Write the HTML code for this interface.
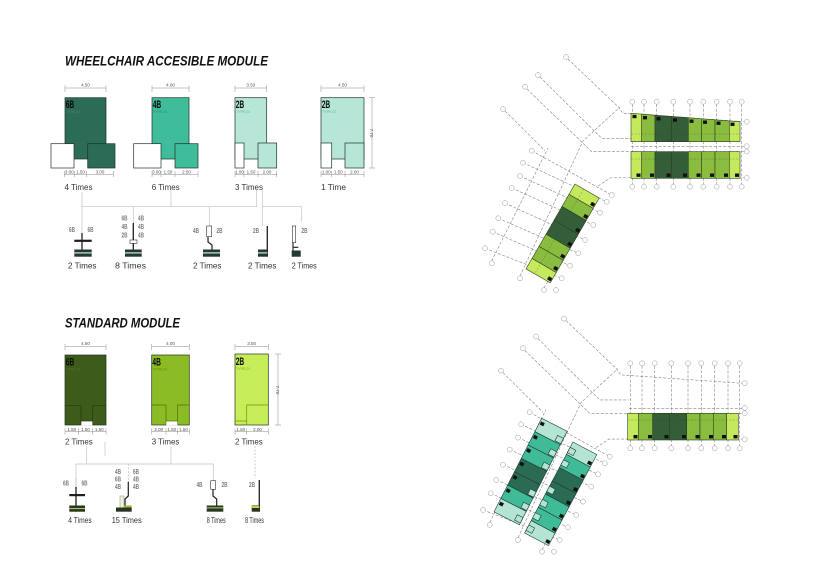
<!DOCTYPE html>
<html><head><meta charset="utf-8"><style>
html,body{margin:0;padding:0;background:#fff;}
svg{display:block}
text{font-family:"Liberation Sans",sans-serif}
.t{font-weight:bold;font-style:italic;font-size:13.5px;fill:#111}
.big{font-weight:bold;font-size:11px;fill:#0b0b0b}
.ty{font-size:3.6px}
.dm{font-size:4.5px;fill:#555}
.tm{font-size:8px;fill:#333}
.lb{font-weight:bold;font-size:7.5px;fill:#7c7c7c}
.dl{stroke:#8a8a8a;stroke-width:.5;fill:none}
.ol{stroke:#1f3328;stroke-width:.7}
</style></head><body>
<svg width="818" height="579" viewBox="0 0 818 579" xmlns="http://www.w3.org/2000/svg">
<rect width="818" height="579" fill="#fff"/>

<text class="t" x="65" y="65.5" textLength="203" lengthAdjust="spacingAndGlyphs">WHEELCHAIR ACCESIBLE MODULE</text>
<text class="t" x="65" y="327.7" textLength="115" lengthAdjust="spacingAndGlyphs">STANDARD MODULE</text>

<!-- 6B -->
<rect x="65" y="97.7" width="41" height="61.3" fill="#2c6b55" class="ol"/>
<rect x="87.7" y="143.7" width="27.3" height="24.3" fill="#2c6b55" class="ol"/>
<rect x="51" y="143.7" width="23" height="24.3" fill="#fff" class="ol"/>
<text class="big" x="65.7" y="108" textLength="8.5" lengthAdjust="spacingAndGlyphs">6B</text>
<text class="ty" x="66" y="113" fill="#4f8a74">TYPE.01</text>
<path class="dl" d="M65 88H106M65 85.5V92M106 85.5V92M64.3 174.5H113.3M64.3 171V177M74.3 171V177M86.7 171V177M113.3 171V177"/>
<text class="dm" x="85.5" y="86.3" text-anchor="middle">4.50</text>
<text class="dm" x="69.3" y="173.5" text-anchor="middle">3.00</text>
<text class="dm" x="80.5" y="173.5" text-anchor="middle">1.50</text>
<text class="dm" x="100" y="173.5" text-anchor="middle">3.00</text>
<text class="tm" x="64.5" y="190" textLength="28" lengthAdjust="spacingAndGlyphs">4 Times</text>

<!-- 4B -->
<rect x="152" y="97.7" width="37" height="61.3" fill="#3fbc99" class="ol"/>
<rect x="175" y="143.7" width="23" height="24.3" fill="#3fbc99" class="ol"/>
<rect x="133.7" y="143.7" width="27.3" height="24.3" fill="#fff" class="ol"/>
<text class="big" x="152.7" y="108" textLength="8.5" lengthAdjust="spacingAndGlyphs">4B</text>
<text class="ty" x="153" y="113" fill="#2a8d70">TYPE.01</text>
<path class="dl" d="M152 88H189M152 85.5V92M189 85.5V92M152 174.5H198M152 171V177M161 171V177M175 171V177M198 171V177"/>
<text class="dm" x="170.5" y="86.3" text-anchor="middle">4.00</text>
<text class="dm" x="156.5" y="173.5" text-anchor="middle">3.00</text>
<text class="dm" x="168" y="173.5" text-anchor="middle">1.50</text>
<text class="dm" x="186.5" y="173.5" text-anchor="middle">2.50</text>
<text class="tm" x="151.7" y="190" textLength="28" lengthAdjust="spacingAndGlyphs">6 Times</text>

<!-- 2B type01 -->
<rect x="235" y="97.7" width="31.7" height="61.3" fill="#b5e6d7" class="ol"/>
<rect x="258" y="143" width="18.7" height="25" fill="#b5e6d7" class="ol"/>
<rect x="235" y="143" width="9" height="25" fill="#fff" class="ol"/>
<text class="big" x="235.7" y="108" textLength="8.5" lengthAdjust="spacingAndGlyphs">2B</text>
<text class="ty" x="236" y="113" fill="#6fb5a0">TYPE.01</text>
<path class="dl" d="M235 88H266.7M235 85.5V92M266.7 85.5V92M235 174.5H276.7M235 171V177M244 171V177M258 171V177M276.7 171V177"/>
<text class="dm" x="250.8" y="86.3" text-anchor="middle">3.50</text>
<text class="dm" x="239.5" y="173.5" text-anchor="middle">1.00</text>
<text class="dm" x="251" y="173.5" text-anchor="middle">1.50</text>
<text class="dm" x="267" y="173.5" text-anchor="middle">2.00</text>
<text class="tm" x="235" y="190" textLength="28" lengthAdjust="spacingAndGlyphs">3 Times</text>

<!-- 2B type02 -->
<rect x="321" y="97.7" width="43" height="61.3" fill="#b5e6d7" class="ol"/>
<rect x="345" y="143" width="19" height="25" fill="#b5e6d7" class="ol"/>
<rect x="321" y="143" width="10.7" height="25" fill="#fff" class="ol"/>
<text class="big" x="321.7" y="108" textLength="8.5" lengthAdjust="spacingAndGlyphs">2B</text>
<text class="ty" x="322" y="113" fill="#6fb5a0">TYPE.02</text>
<path class="dl" d="M321 88H364M321 85.5V92M364 85.5V92M321 174.5H364M321 171V177M331.7 171V177M345 171V177M364 171V177M372 97.7V168M369 97.7H375M369 168H375"/>
<text class="dm" x="342.5" y="86.3" text-anchor="middle">4.50</text>
<text class="dm" x="326.3" y="173.5" text-anchor="middle">1.00</text>
<text class="dm" x="338.3" y="173.5" text-anchor="middle">1.50</text>
<text class="dm" x="354.5" y="173.5" text-anchor="middle">2.00</text>
<text class="dm" transform="translate(369.8,133) rotate(90)" text-anchor="middle">7.70</text>
<text class="tm" x="321" y="190" textLength="25" lengthAdjust="spacingAndGlyphs">1 Time</text>

<!-- WA TREE -->
<path stroke="#c4c4c4" stroke-width=".7" fill="none" d="M82 192V233M82 206.7H256.7M171 190V206.7M256.7 190V206.7M262.3 190V226M262.3 206.7H301.7M301.7 206.7V222M133.3 206.7V223M209.3 206.7V226"/>
<text class="lb" x="69" y="232" textLength="6" lengthAdjust="spacingAndGlyphs">6B</text>
<text class="lb" x="87.5" y="232" textLength="6" lengthAdjust="spacingAndGlyphs">6B</text>
<path d="M82 233V251" stroke="#1e1e1e" stroke-width="1.3"/>
<rect x="74.3" y="239.7" width="17.4" height="2.2" fill="#1e1e1e"/>
<rect x="74.3" y="249.5" width="17.4" height="7.2" fill="#223a2f"/><rect x="74.3" y="252.3" width="17.4" height="1.2" fill="#cde8dc"/>
<text class="tm" x="68" y="268.5" textLength="28.5" lengthAdjust="spacingAndGlyphs">2 Times</text>
<text class="lb" x="121.5" y="220.5" textLength="6" lengthAdjust="spacingAndGlyphs">6B</text>
<text class="lb" x="121.5" y="229" textLength="6" lengthAdjust="spacingAndGlyphs">4B</text>
<text class="lb" x="121.5" y="237.5" textLength="6" lengthAdjust="spacingAndGlyphs">2B</text>
<text class="lb" x="138" y="220.5" textLength="6" lengthAdjust="spacingAndGlyphs">4B</text>
<text class="lb" x="138" y="229" textLength="6" lengthAdjust="spacingAndGlyphs">4B</text>
<text class="lb" x="138" y="237.5" textLength="6" lengthAdjust="spacingAndGlyphs">4B</text>
<path d="M133.3 223V240M133.3 243.3V250" stroke="#1e1e1e" stroke-width="1.3"/>
<rect x="130" y="240" width="7" height="3.3" fill="#fff" stroke="#333" stroke-width=".6"/>
<rect x="125" y="249.5" width="16.7" height="7.2" fill="#223a2f"/><rect x="125" y="252.3" width="16.7" height="1.2" fill="#cde8dc"/>
<text class="tm" x="115" y="268.5" textLength="31" lengthAdjust="spacingAndGlyphs">8 Times</text>
<rect x="206.7" y="226" width="5" height="10.7" fill="#fff" stroke="#333" stroke-width=".6"/>
<text class="lb" x="193" y="233" textLength="6" lengthAdjust="spacingAndGlyphs">4B</text>
<text class="lb" x="216.5" y="233" textLength="6" lengthAdjust="spacingAndGlyphs">2B</text>
<path d="M208 236.7V242L212 245V250" stroke="#1e1e1e" stroke-width="1.2" fill="none"/>
<rect x="203" y="249.5" width="17" height="7.2" fill="#223a2f"/><rect x="203" y="252.3" width="17" height="1.2" fill="#cde8dc"/>
<text class="tm" x="193" y="268.5" textLength="28.5" lengthAdjust="spacingAndGlyphs">2 Times</text>
<text class="lb" x="253" y="233" textLength="6" lengthAdjust="spacingAndGlyphs">2B</text>
<path d="M267.3 226V256.7" stroke="#1e1e1e" stroke-width="1.3"/>
<rect x="258" y="249.5" width="9.3" height="7.2" fill="#223a2f"/><rect x="258" y="252.3" width="9.3" height="1.2" fill="#cde8dc"/>
<text class="tm" x="248" y="268.5" textLength="28.5" lengthAdjust="spacingAndGlyphs">2 Times</text>
<rect x="292.3" y="226" width="3.4" height="16.7" fill="#fff" stroke="#333" stroke-width=".6"/>
<text class="lb" x="301.5" y="233" textLength="6" lengthAdjust="spacingAndGlyphs">2B</text>
<path d="M293 242.7V256.7M293 247.3H298.3" stroke="#1e1e1e" stroke-width="1.1"/>
<rect x="291.7" y="250.5" width="9" height="6.2" fill="#223a2f"/>
<text class="tm" x="291.7" y="268.5" textLength="25" lengthAdjust="spacingAndGlyphs">2 Times</text>

<!-- STANDARD MODULES -->
<rect x="65" y="355" width="41" height="70" fill="#3d5c19" class="ol"/>
<path d="M65 405.7H81V425M92.7 425V405.7H106" stroke="#25380c" stroke-width=".7" fill="none"/>
<rect x="81.3" y="421" width="11.1" height="4.4" fill="#fff"/>
<path d="M81 421H92.7" stroke="#25380c" stroke-width=".7"/>
<text class="big" x="65.7" y="365.5" textLength="8.5" lengthAdjust="spacingAndGlyphs">6B</text>
<text class="ty" x="66" y="370.5" fill="#5a7a30">TYPE.01</text>
<path class="dl" d="M65 346.7H106M65 344V350M106 344V350M65 431.7H106M65 428.5V434.5M78.7 428.5V434.5M92.3 428.5V434.5M106 428.5V434.5"/>
<text class="dm" x="85.5" y="345" text-anchor="middle">4.50</text>
<text class="dm" x="71.8" y="430.8" text-anchor="middle">1.50</text>
<text class="dm" x="85.5" y="430.8" text-anchor="middle">1.50</text>
<text class="dm" x="99.2" y="430.8" text-anchor="middle">1.50</text>
<text class="tm" x="65" y="444.5" textLength="27.7" lengthAdjust="spacingAndGlyphs">2 Times</text>
<rect x="151.7" y="355" width="37.6" height="70" fill="#8cbc24" class="ol"/>
<path d="M151.7 405H166V425M177.7 425V405H189.3" stroke="#4d6b10" stroke-width=".7" fill="none"/>
<rect x="166.3" y="421" width="11.1" height="4.4" fill="#fff"/>
<path d="M166 421H177.7" stroke="#4d6b10" stroke-width=".7"/>
<text class="big" x="152.4" y="365.5" textLength="8.5" lengthAdjust="spacingAndGlyphs">4B</text>
<text class="ty" x="153" y="370.5" fill="#5f8a12">TYPE.01</text>
<path class="dl" d="M151.7 346.7H189.3M151.7 344V350M189.3 344V350M151.7 431.7H189.3M151.7 428.5V434.5M166 428.5V434.5M177.7 428.5V434.5M189.3 428.5V434.5"/>
<text class="dm" x="170.5" y="345" text-anchor="middle">4.00</text>
<text class="dm" x="158.8" y="430.8" text-anchor="middle">2.00</text>
<text class="dm" x="171.8" y="430.8" text-anchor="middle">1.50</text>
<text class="dm" x="183.5" y="430.8" text-anchor="middle">1.50</text>
<text class="tm" x="151.7" y="444.5" textLength="27.7" lengthAdjust="spacingAndGlyphs">3 Times</text>
<rect x="235" y="354" width="33.3" height="71" fill="#c6ee58" class="ol"/>
<path d="M246.7 425V405H268.3M235 421H246.7" stroke="#6f8f1a" stroke-width=".7" fill="none"/>
<text class="big" x="235.7" y="365" textLength="8.5" lengthAdjust="spacingAndGlyphs">2B</text>
<text class="ty" x="236" y="370" fill="#7fae22">TYPE.01</text>
<path class="dl" d="M235 346.7H268.3M235 344V350M268.3 344V350M235 431.7H268.3M235 428.5V434.5M246.7 428.5V434.5M268.3 428.5V434.5M278 354V425M275 354H281M275 425H281"/>
<text class="dm" x="251.6" y="345" text-anchor="middle">3.50</text>
<text class="dm" x="240.8" y="430.8" text-anchor="middle">1.50</text>
<text class="dm" x="257.5" y="430.8" text-anchor="middle">2.00</text>
<text class="dm" transform="translate(275.8,390) rotate(90)" text-anchor="middle">7.70</text>
<text class="tm" x="235" y="444.5" textLength="27.7" lengthAdjust="spacingAndGlyphs">2 Times</text>

<!-- STANDARD TREE -->
<path stroke="#c4c4c4" stroke-width=".7" fill="none" d="M86.7 446V464M76 464H213.3M171 446V464M105 442V456M76 464V478M213.3 464V480.7"/>
<path stroke="#b8b8b8" stroke-width=".7" fill="none" stroke-dasharray="2 1.5" d="M255 446V478M128.3 464V481.7"/>
<text class="lb" x="63" y="485.5" textLength="6" lengthAdjust="spacingAndGlyphs">6B</text>
<text class="lb" x="81.5" y="485.5" textLength="6" lengthAdjust="spacingAndGlyphs">6B</text>
<path d="M76 478V487" stroke="#aaa" stroke-width=".7"/>
<path d="M76 487V511.7" stroke="#1e1e1e" stroke-width="1.3"/>
<rect x="69.3" y="494" width="15.7" height="2.2" fill="#1e1e1e"/>
<rect x="69.3" y="505.5" width="15.7" height="6.2" fill="#2a3520"/><rect x="69.3" y="508" width="15.7" height="1.1" fill="#a9c46a"/>
<text class="tm" x="68.3" y="523" textLength="23.4" lengthAdjust="spacingAndGlyphs">4 Times</text>
<text class="lb" x="115" y="474" textLength="6" lengthAdjust="spacingAndGlyphs">4B</text>
<text class="lb" x="115" y="481.5" textLength="6" lengthAdjust="spacingAndGlyphs">6B</text>
<text class="lb" x="115" y="489" textLength="6" lengthAdjust="spacingAndGlyphs">4B</text>
<text class="lb" x="133" y="474" textLength="6" lengthAdjust="spacingAndGlyphs">6B</text>
<text class="lb" x="133" y="481.5" textLength="6" lengthAdjust="spacingAndGlyphs">4B</text>
<text class="lb" x="133" y="489" textLength="6" lengthAdjust="spacingAndGlyphs">4B</text>
<path d="M128.3 481.7V496L125 499V507" stroke="#1e1e1e" stroke-width="1.2" fill="none"/>
<rect x="120" y="496" width="4" height="12" fill="#eef4d8" stroke="#888" stroke-width=".5"/>
<rect x="116" y="507.5" width="15.7" height="4.2" fill="#2a3520"/><rect x="124" y="505.5" width="7.7" height="2" fill="#9ab83a"/>
<text class="tm" x="111.7" y="523" textLength="30" lengthAdjust="spacingAndGlyphs">15 Times</text>
<rect x="210.7" y="480.7" width="5" height="8.6" fill="#fff" stroke="#333" stroke-width=".6"/>
<text class="lb" x="196.5" y="487" textLength="6" lengthAdjust="spacingAndGlyphs">4B</text>
<text class="lb" x="221.5" y="487" textLength="6" lengthAdjust="spacingAndGlyphs">2B</text>
<path d="M213 489.3V496L216.7 499V506" stroke="#1e1e1e" stroke-width="1.2" fill="none"/>
<rect x="206.7" y="505.5" width="16.6" height="6.2" fill="#2a3520"/><rect x="206.7" y="507.3" width="16.6" height="1.1" fill="#a9c46a"/>
<text class="tm" x="206.7" y="523" textLength="19" lengthAdjust="spacingAndGlyphs">8 Times</text>
<text class="lb" x="249" y="487" textLength="6" lengthAdjust="spacingAndGlyphs">2B</text>
<path d="M259.3 480V511.7" stroke="#1e1e1e" stroke-width="1.3"/>
<rect x="251.7" y="505.5" width="7.6" height="6.2" fill="#2a3520"/><rect x="251.7" y="506" width="7.6" height="2" fill="#b9d840"/>
<text class="tm" x="245" y="523" textLength="19" lengthAdjust="spacingAndGlyphs">8 Times</text>

<defs>
<g id="grid">
<g fill="none" stroke="#858585" stroke-width=".6" stroke-dasharray="3 1.6">
<path d="M632.3 104.2V184.2M644 104.2V184.2M656.7 104.2V184.2M673.3 104.2V184.2M690 104.2V184.2M703.3 104.2V184.2M716.7 104.2V184.2M730 104.2V184.2M741.7 104.2V184.2"/>
<path d="M568 59L618 106.7L623 113.3L744.2 121.7"/>
<path d="M540 77L601.7 138.3H631M631 146.7H744.2"/>
<path d="M527 89L591.7 151.7H744.2"/>
<path d="M505 111L545 150.7"/>
<path d="M598 186L611 177.5H744.2"/>
<path d="M531.7 150.7L611.7 195M523 162.7L606.7 201.7M520 176L600 212.7M511.7 188L593.3 225M505 203L585 240M498.3 218.3L578.3 253.3M492.7 231.7L570 265.7M485 248.3L561.7 278.3"/>
<path d="M491.7 261L548 148M520 276L583 141L620 107M544 288L556 266"/>
</g>
<g fill="#fff" stroke="#9a9a9a" stroke-width=".5">
<circle cx="632.3" cy="101.7" r="2.5"/><circle cx="644" cy="101.7" r="2.5"/><circle cx="656.7" cy="101.7" r="2.5"/><circle cx="673.3" cy="101.7" r="2.5"/><circle cx="690" cy="101.7" r="2.5"/><circle cx="703.3" cy="101.7" r="2.5"/><circle cx="716.7" cy="101.7" r="2.5"/><circle cx="730" cy="101.7" r="2.5"/><circle cx="741.7" cy="101.7" r="2.5"/>
<circle cx="632.3" cy="186.7" r="2.5"/><circle cx="644" cy="186.7" r="2.5"/><circle cx="656.7" cy="186.7" r="2.5"/><circle cx="673.3" cy="186.7" r="2.5"/><circle cx="690" cy="186.7" r="2.5"/><circle cx="703.3" cy="186.7" r="2.5"/><circle cx="716.7" cy="186.7" r="2.5"/><circle cx="730" cy="186.7" r="2.5"/><circle cx="741.7" cy="186.7" r="2.5"/>
<circle cx="746.7" cy="121.7" r="2.5"/><circle cx="746.7" cy="146.2" r="2.5"/><circle cx="746.7" cy="151.5" r="2.5"/><circle cx="746.7" cy="177.8" r="2.5"/>
<circle cx="566" cy="57" r="2.5"/><circle cx="538" cy="75" r="2.5"/><circle cx="525" cy="86.7" r="2.5"/><circle cx="503" cy="109" r="2.5"/>
<circle cx="531.7" cy="150.7" r="2.5"/><circle cx="523" cy="162.7" r="2.5"/><circle cx="520" cy="176" r="2.5"/><circle cx="511.7" cy="188" r="2.5"/><circle cx="505" cy="203" r="2.5"/><circle cx="498.3" cy="218.3" r="2.5"/><circle cx="492.7" cy="231.7" r="2.5"/><circle cx="485" cy="248.3" r="2.5"/><circle cx="491.7" cy="263.3" r="2.5"/>
<circle cx="611.7" cy="195" r="2.5"/><circle cx="606.7" cy="201.7" r="2.5"/><circle cx="600" cy="212.7" r="2.5"/><circle cx="593.3" cy="225" r="2.5"/><circle cx="585" cy="240" r="2.5"/><circle cx="578.3" cy="253.3" r="2.5"/><circle cx="570" cy="265.7" r="2.5"/><circle cx="561.7" cy="278.3" r="2.5"/><circle cx="556" cy="290" r="2.5"/>
<circle cx="520" cy="278.3" r="2.5"/><circle cx="544" cy="290" r="2.5"/>
</g>
</g>
</defs>

<!-- TOP PLAN -->
<use href="#grid"/>
<g stroke="#2d3f22" stroke-width=".6">
<polygon points="631,113.3 641.7,114.1 641.7,141.7 631,141.7" fill="#c4e95c"/>
<polygon points="641.7,114.1 655,115.15 655,141.7 641.7,141.7" fill="#8abc3f"/>
<polygon points="655,115.15 671.7,116.4 671.7,141.7 655,141.7" fill="#335e38"/>
<polygon points="671.7,116.4 688.3,117.7 688.3,141.7 671.7,141.7" fill="#335e38"/>
<polygon points="688.3,117.7 701.7,118.75 701.7,141.7 688.3,141.7" fill="#8abc3f"/>
<polygon points="701.7,118.75 715,119.8 715,141.7 701.7,141.7" fill="#8abc3f"/>
<polygon points="715,119.8 729.3,120.9 729.3,141.7 715,141.7" fill="#8abc3f"/>
<polygon points="729.3,120.9 740,121.7 740,141.7 729.3,141.7" fill="#c4e95c"/>
<rect x="631" y="151.7" width="10.7" height="26.6" fill="#c4e95c"/>
<rect x="641.7" y="151.7" width="13.3" height="26.6" fill="#8abc3f"/>
<rect x="655" y="151.7" width="16.7" height="26.6" fill="#335e38"/>
<rect x="671.7" y="151.7" width="16.6" height="26.6" fill="#335e38"/>
<rect x="688.3" y="151.7" width="13.4" height="26.6" fill="#8abc3f"/>
<rect x="701.7" y="151.7" width="13.3" height="26.6" fill="#8abc3f"/>
<rect x="715" y="151.7" width="14.3" height="26.6" fill="#8abc3f"/>
<rect x="729.3" y="151.7" width="10.7" height="26.6" fill="#c4e95c"/>
</g>
<path d="M631 134H740M631 159H740" stroke="#2d3f22" stroke-width=".4" stroke-dasharray="2 1.5" opacity=".6"/>
<g fill="#111">
<rect x="632.5" y="114.8" width="4" height="3.4"/><rect x="643" y="116" width="4" height="3.4"/><rect x="656.5" y="117" width="4" height="3.4"/><rect x="673" y="118.3" width="4" height="3.4"/><rect x="689.5" y="119.5" width="4" height="3.4"/><rect x="703" y="120.5" width="4" height="3.4"/><rect x="716.5" y="121.5" width="4" height="3.4"/><rect x="730.5" y="122.6" width="4" height="3.4"/>
<rect x="636.5" y="173.5" width="4" height="3.4"/><rect x="650" y="173.5" width="4" height="3.4"/><rect x="666.5" y="173.5" width="4" height="3.4"/><rect x="683" y="173.5" width="4" height="3.4"/><rect x="696.5" y="173.5" width="4" height="3.4"/><rect x="710" y="173.5" width="4" height="3.4"/><rect x="724" y="173.5" width="4" height="3.4"/><rect x="735" y="173.5" width="4" height="3.4"/>
</g>
<g transform="translate(575,184) rotate(30)" stroke="#2d3f22" stroke-width=".6">
<rect x="0" y="0" width="28" height="12" fill="#c4e95c"/>
<rect x="0" y="12" width="28" height="14" fill="#8abc3f"/>
<rect x="0" y="26" width="28" height="16" fill="#335e38"/>
<rect x="0" y="42" width="28" height="16" fill="#335e38"/>
<rect x="0" y="58" width="28" height="14" fill="#8abc3f"/>
<rect x="0" y="72" width="28" height="14" fill="#8abc3f"/>
<rect x="0" y="86" width="28" height="12" fill="#c4e95c"/>
<g fill="#111" stroke="none">
<rect x="23.5" y="7" width="4" height="3.5"/><rect x="23.5" y="21" width="4" height="3.5"/><rect x="23.5" y="37" width="4" height="3.5"/><rect x="23.5" y="53" width="4" height="3.5"/><rect x="23.5" y="67" width="4" height="3.5"/><rect x="23.5" y="81" width="4" height="3.5"/><rect x="23.5" y="93" width="4" height="3.5"/>
</g>
<path d="M10 0V98" stroke-dasharray="2 1.5" stroke-width=".4" fill="none" opacity=".6"/>
</g>

<!-- BOTTOM PLAN -->
<use href="#grid" transform="translate(-2,261.6)"/>
<g stroke="#2d3f22" stroke-width=".6">
<rect x="627.7" y="413.3" width="10.6" height="26.7" fill="#c4e95c"/>
<rect x="638.3" y="413.3" width="14.4" height="26.7" fill="#8abc3f"/>
<rect x="652.7" y="413.3" width="16.6" height="26.7" fill="#335e38"/>
<rect x="669.3" y="413.3" width="17.4" height="26.7" fill="#335e38"/>
<rect x="686.7" y="413.3" width="13.3" height="26.7" fill="#8abc3f"/>
<rect x="700" y="413.3" width="13.3" height="26.7" fill="#8abc3f"/>
<rect x="713.3" y="413.3" width="13.4" height="26.7" fill="#8abc3f"/>
<rect x="726.7" y="413.3" width="11.6" height="26.7" fill="#c4e95c"/>
</g>
<path d="M627.7 420H738.3" stroke="#2d3f22" stroke-width=".4" stroke-dasharray="2 1.5" opacity=".6"/>
<g fill="#111">
<rect x="633.5" y="435" width="4" height="3.4"/><rect x="648" y="435" width="4" height="3.4"/><rect x="664.5" y="435" width="4" height="3.4"/><rect x="682" y="435" width="4" height="3.4"/><rect x="695.5" y="435" width="4" height="3.4"/><rect x="709" y="435" width="4" height="3.4"/><rect x="722" y="435" width="4" height="3.4"/><rect x="733.5" y="435" width="4" height="3.4"/>
</g>
<g transform="translate(541.7,418.3) rotate(27)" stroke="#1f3a30" stroke-width=".6">
<rect x="0" y="0" width="28.5" height="15" fill="#b3e4d4"/>
<rect x="0" y="15" width="28.5" height="15" fill="#3fbb97"/>
<rect x="0" y="30" width="28.5" height="15" fill="#3fbb97"/>
<rect x="0" y="45" width="28.5" height="15" fill="#2b6a53"/>
<rect x="0" y="60" width="28.5" height="15" fill="#2b6a53"/>
<rect x="0" y="75" width="28.5" height="15" fill="#3fbb97"/>
<rect x="0" y="90" width="28.5" height="15" fill="#b3e4d4"/>
<g fill="#b3e4d4"><rect x="22" y="8" width="6.5" height="6"/><rect x="22" y="23" width="6.5" height="6"/><rect x="22" y="38" width="6.5" height="6"/><rect x="22" y="68" width="6.5" height="6"/><rect x="22" y="83" width="6.5" height="6"/><rect x="22" y="97" width="6.5" height="6"/></g>
<g fill="#111" stroke="none">
<rect x="1" y="3" width="4" height="3.5"/><rect x="1" y="18" width="4" height="3.5"/><rect x="1" y="33" width="4" height="3.5"/><rect x="1" y="48" width="4" height="3.5"/><rect x="1" y="63" width="4" height="3.5"/><rect x="1" y="78" width="4" height="3.5"/><rect x="1" y="93" width="4" height="3.5"/>
</g>
</g>
<g transform="translate(573,442) rotate(28)" stroke="#1f3a30" stroke-width=".6">
<rect x="0" y="0" width="27" height="14" fill="#b3e4d4"/>
<rect x="0" y="14" width="27" height="15" fill="#3fbb97"/>
<rect x="0" y="29" width="27" height="15" fill="#2b6a53"/>
<rect x="0" y="44" width="27" height="15" fill="#2b6a53"/>
<rect x="0" y="59" width="27" height="15" fill="#3fbb97"/>
<rect x="0" y="74" width="27" height="15" fill="#3fbb97"/>
<rect x="0" y="89" width="27" height="14" fill="#b3e4d4"/>
<g fill="#b3e4d4"><rect x="0" y="6" width="6.5" height="6"/><rect x="0" y="20" width="6.5" height="6"/><rect x="0" y="50" width="6.5" height="6"/><rect x="0" y="65" width="6.5" height="6"/><rect x="0" y="80" width="6.5" height="6"/><rect x="0" y="94" width="6.5" height="6"/></g>
<g fill="#111" stroke="none">
<rect x="22.5" y="9" width="4" height="3.5"/><rect x="22.5" y="24" width="4" height="3.5"/><rect x="22.5" y="39" width="4" height="3.5"/><rect x="22.5" y="54" width="4" height="3.5"/><rect x="22.5" y="69" width="4" height="3.5"/><rect x="22.5" y="84" width="4" height="3.5"/><rect x="22.5" y="98" width="4" height="3.5"/>
</g>
</g>
</svg>
</body></html>
